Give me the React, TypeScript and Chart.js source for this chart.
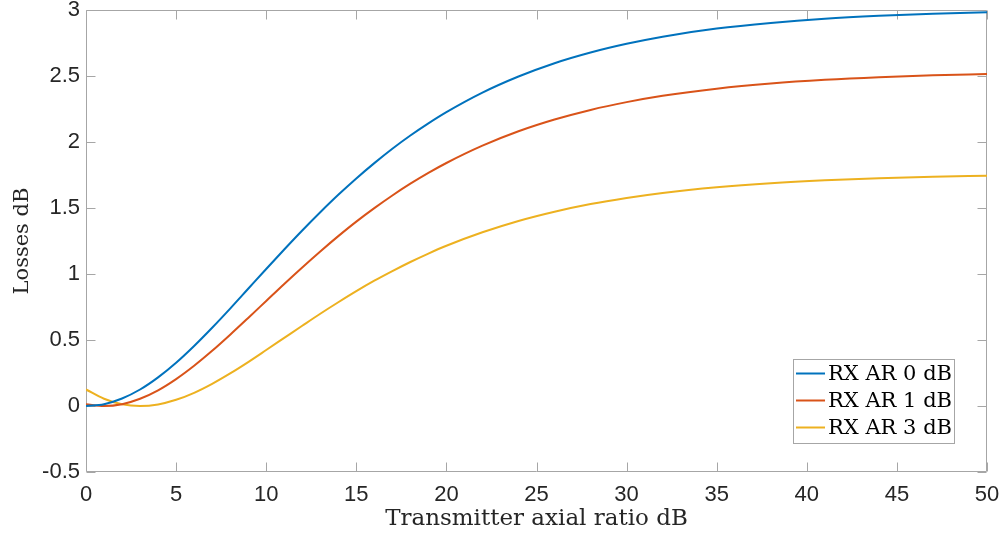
import React, { useEffect, useRef } from 'react';
import { Chart, registerables } from 'chart.js';

Chart.register(...registerables);

const xValues = [0, 1, 2, 3, 4, 5, 6, 7, 8, 9, 10, 11, 12, 13, 14, 15, 16, 17, 18, 19, 20, 22, 24, 26, 28, 30, 32, 35, 38, 41, 44, 47, 50];
const lossRx0 = [0, 0.014, 0.057, 0.125, 0.217, 0.328, 0.455, 0.593, 0.738, 0.888, 1.038, 1.186, 1.330, 1.468, 1.600, 1.724, 1.840, 1.949, 2.049, 2.141, 2.226, 2.374, 2.496, 2.597, 2.678, 2.744, 2.798, 2.859, 2.902, 2.934, 2.956, 2.972, 2.983];
const lossRx1 = [0.014, 0.000, 0.014, 0.055, 0.119, 0.204, 0.305, 0.418, 0.540, 0.667, 0.796, 0.925, 1.050, 1.171, 1.287, 1.397, 1.499, 1.595, 1.684, 1.766, 1.841, 1.972, 2.081, 2.170, 2.243, 2.302, 2.350, 2.404, 2.443, 2.471, 2.491, 2.505, 2.515];
const lossRx3 = [0.125, 0.055, 0.013, 0.000, 0.012, 0.047, 0.100, 0.168, 0.247, 0.333, 0.424, 0.516, 0.608, 0.699, 0.786, 0.870, 0.949, 1.022, 1.091, 1.155, 1.214, 1.316, 1.402, 1.472, 1.530, 1.576, 1.614, 1.657, 1.688, 1.710, 1.726, 1.737, 1.745];

const seriesLabels = ['RX AR 0 dB', 'RX AR 1 dB', 'RX AR 3 dB'];
const seriesColors = ['#0072BD', '#D95319', '#EDB120'];
const xTicks = [0, 5, 10, 15, 20, 25, 30, 35, 40, 45, 50];
const yTicks = [-0.5, 0, 0.5, 1, 1.5, 2, 2.5, 3];
const xTickLabels = ['0', '5', '10', '15', '20', '25', '30', '35', '40', '45', '50'];
const yTickLabels = ['-0.5', '0', '0.5', '1', '1.5', '2', '2.5', '3'];

const xTitle = 'Transmitter axial ratio dB';
const yTitle = 'Losses dB';

const AXIS_COLOR = '#a6a6a6';
const TEXT_COLOR = '#262626';
const SERIF = '"DejaVu Serif", serif';
const SANS = '"Liberation Sans", Arial, sans-serif';

const boxPlugin = {
  id: 'matlabBox',
  beforeDatasetsDraw(chart: any) {
    const { ctx, chartArea, scales } = chart;
    const { left, right, top, bottom } = chartArea;
    const x = scales.x;
    const y = scales.y;
    const tl = 9;
    ctx.save();
    ctx.strokeStyle = AXIS_COLOR;
    ctx.lineWidth = 1;
    const L = Math.round(left) + 0.5;
    const R = Math.round(right) - 0.5;
    const T = Math.round(top) + 0.5;
    const B = Math.round(bottom) - 0.5;
    ctx.beginPath();
    ctx.rect(L, T, R - L, B - T);
    xTicks.forEach((v) => {
      const px = Math.round(x.getPixelForValue(v)) + 0.5;
      ctx.moveTo(px, B);
      ctx.lineTo(px, B - tl);
      ctx.moveTo(px, T);
      ctx.lineTo(px, T + tl);
    });
    yTicks.forEach((v) => {
      const py = Math.round(y.getPixelForValue(v)) + 0.5;
      ctx.moveTo(L, py);
      ctx.lineTo(L + tl, py);
      ctx.moveTo(R, py);
      ctx.lineTo(R - tl, py);
    });
    ctx.stroke();
    ctx.restore();
  },
};

const legendPlugin = {
  id: 'matlabLegend',
  afterDatasetsDraw(chart: any) {
    const { ctx, chartArea } = chart;
    ctx.save();
    ctx.font = `21px ${SERIF}`;
    const textW = Math.max(...seriesLabels.map((s) => ctx.measureText(s).width));
    const lineLen = 29;
    const padL = 3;
    const gap = 3;
    const padR = 2;
    const rowH = 27;
    const w = padL + lineLen + gap + textW + padR;
    const h = 84;
    const right = Math.round(chartArea.right) - 33;
    const bottom = Math.round(chartArea.bottom) - 29;
    const bx = right - w;
    const by = bottom - h;
    ctx.fillStyle = '#ffffff';
    ctx.fillRect(bx, by, w, h);
    ctx.strokeStyle = AXIS_COLOR;
    ctx.lineWidth = 1;
    ctx.strokeRect(Math.round(bx) + 0.5, Math.round(by) + 0.5, Math.round(w), Math.round(h));
    const firstY = by + 14.5;
    seriesLabels.forEach((label, i) => {
      const cy = firstY + i * rowH;
      ctx.strokeStyle = seriesColors[i];
      ctx.lineWidth = 2;
      ctx.beginPath();
      ctx.moveTo(bx + padL, cy);
      ctx.lineTo(bx + padL + lineLen, cy);
      ctx.stroke();
      ctx.fillStyle = '#000000';
      ctx.textBaseline = 'middle';
      ctx.textAlign = 'left';
      ctx.fillText(label, bx + padL + lineLen + gap, cy + 1);
    });
    ctx.restore();
  },
};

const zeroPad = (s: any) => {
  s.paddingTop = 0;
  s.paddingBottom = 0;
  s.paddingLeft = 0;
  s.paddingRight = 0;
};

export default function App() {
  const canvasRef = useRef<HTMLCanvasElement | null>(null);

  useEffect(() => {
    const canvas = canvasRef.current;
    if (!canvas) return;
    const seriesValues = [lossRx0, lossRx1, lossRx3];
    const chart = new Chart(canvas, {
      type: 'line',
      data: {
        datasets: seriesValues.map((vals, i) => ({
          label: seriesLabels[i],
          data: xValues.map((xv, j) => ({ x: xv, y: vals[j] })),
          borderColor: seriesColors[i],
          backgroundColor: seriesColors[i],
          borderWidth: 2,
          pointRadius: 0,
          cubicInterpolationMode: 'monotone' as const,
          fill: false,
        })),
      },
      options: {
        responsive: false,
        animation: false,
        layout: { padding: { top: 10, right: 15, left: 0, bottom: 0 } },
        plugins: {
          legend: { display: false },
          tooltip: { enabled: false },
        },
        scales: {
          x: {
            type: 'linear',
            min: 0,
            max: 50,
            afterBuildTicks: (s: any) => {
              s.ticks = xTicks.map((v) => ({ value: v }));
            },
            afterFit: (s: any) => {
              s.height = 64;
              zeroPad(s);
            },
            ticks: {
              font: { family: SANS, size: 22 },
              color: TEXT_COLOR,
              padding: 10,
              maxRotation: 0,
              autoSkip: false,
              callback: (_v: any, i: number) => xTickLabels[i],
            },
            grid: { display: false, drawTicks: false },
            border: { display: false },
            title: {
              display: true,
              text: xTitle,
              font: { family: SERIF, size: 23 },
              color: TEXT_COLOR,
              padding: { top: 0, bottom: 3 },
            },
          },
          y: {
            type: 'linear',
            min: -0.5,
            max: 3,
            afterBuildTicks: (s: any) => {
              s.ticks = yTicks.map((v) => ({ value: v }));
            },
            afterFit: (s: any) => {
              s.width = 86;
              zeroPad(s);
            },
            ticks: {
              font: { family: SANS, size: 22 },
              color: TEXT_COLOR,
              padding: 6,
              autoSkip: false,
              callback: (_v: any, i: number) => yTickLabels[i],
            },
            grid: { display: false, drawTicks: false },
            border: { display: false },
            title: {
              display: true,
              text: yTitle,
              font: { family: SERIF, size: 21 },
              color: TEXT_COLOR,
              padding: { top: 10, bottom: 0 },
            },
          },
        },
      },
      plugins: [boxPlugin, legendPlugin],
    });
    return () => chart.destroy();
  }, []);

  return (
    <div style={{ position: 'absolute', left: 0, top: 0, width: 1002, height: 536, background: '#ffffff' }}>
      <canvas ref={canvasRef} width={1002} height={536} />
    </div>
  );
}
